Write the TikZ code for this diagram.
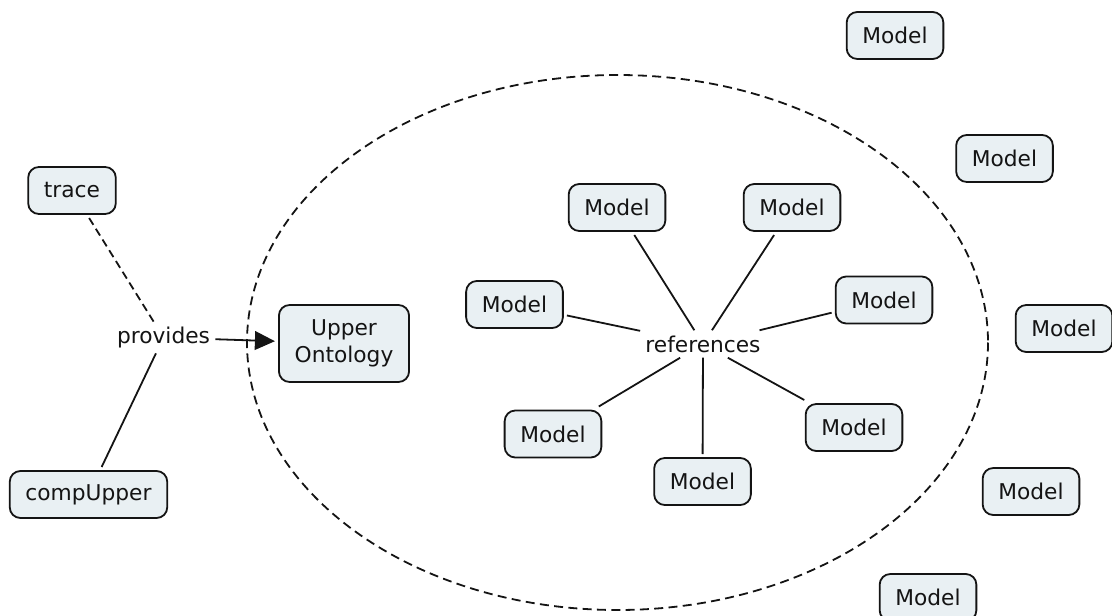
\documentclass[tikz,border=0pt]{standalone}
\usepackage{fontspec}
\setmainfont{DejaVu Sans}
\usetikzlibrary{arrows.meta}
\definecolor{boxfill}{RGB}{233,240,243}
\definecolor{ink}{RGB}{20,20,20}
\begin{document}
\begin{tikzpicture}[x=0.75pt,y=-0.75pt,
  every node/.style={font=\fontsize{16.3}{20.25}\selectfont, text=ink},
  concept/.style={draw=ink, line width=1.35pt, fill=boxfill, rounded corners=8pt,
    minimum height=35.25pt, inner xsep=11.8pt, inner ysep=2pt, outer sep=3pt},
  linklabel/.style={inner sep=2pt, outer sep=2pt},
  link/.style={draw=ink, line width=1.35pt},
  dashlink/.style={link, dash pattern=on 6pt off 3.5pt},
  region/.style={draw=ink, line width=1.35pt, dash pattern=on 6.75pt off 4pt}]
\useasboundingbox (0,0) rectangle (1112,616);

% scope boundary
\draw[region] (617.5,342.5) ellipse [x radius=370.5, y radius=267.5];

% left part
\node[concept] (trace) at (72,190.5) {trace};
\node[concept] (comp) at (88.5,494.5) {compUpper};
\node[linklabel] (provides) at (163.5,337.5) {provides};
\node[concept, align=center, minimum height=57.75pt] (uo) at (344,343.5) {Upper\\Ontology};

\draw[dashlink] (trace) -- (provides);
\draw[link] (comp) -- (provides);
\draw[link, -{Triangle[length=15pt,width=14pt]}] (provides) -- (uo);

% models referenced inside the boundary
\node[linklabel] (refs) at (703,344) {references};
\node[concept] (m3) at (617,207.5) {Model};
\node[concept] (m4) at (792,207.5) {Model};
\node[concept] (m5) at (514.5,304.5) {Model};
\node[concept] (m6) at (884,300) {Model};
\node[concept] (m8) at (553,434) {Model};
\node[concept] (m9) at (854,427.5) {Model};
\node[concept] (m10) at (702.5,481.5) {Model};

\foreach \m in {m3,m4,m5,m6,m8,m9,m10}
  \draw[link] (\m) -- (refs);

% models outside the boundary
\node[concept] (m1) at (895,35.5) {Model};
\node[concept] (m2) at (1004.5,158.5) {Model};
\node[concept] (m7) at (1064,328.5) {Model};
\node[concept] (m11) at (1031,491.5) {Model};
\node[concept] (m12) at (928,597.5) {Model};
\end{tikzpicture}
\end{document}
